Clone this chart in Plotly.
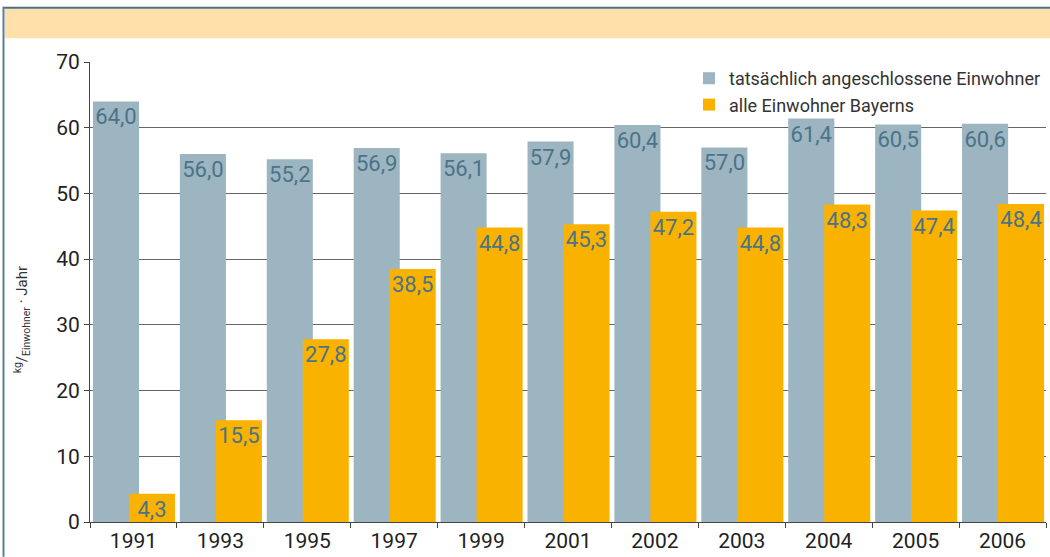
import plotly.graph_objects as go

years = ["1991", "1993", "1995", "1997", "1999", "2001", "2002", "2003", "2004", "2005", "2006"]
connected = [64.0, 56.0, 55.2, 56.9, 56.1, 57.9, 60.4, 57.0, 61.4, 60.5, 60.6]
all_bavaria = [4.3, 15.5, 27.8, 38.5, 44.8, 45.3, 47.2, 44.8, 48.3, 47.4, 48.4]
series_names = ["tatsächlich angeschlossene Einwohner", "alle Einwohner Bayerns"]
yticks = [0, 10, 20, 30, 40, 50, 60, 70]

W, H = 1050, 557
L, R, T, B = 90, 4, 62, 32
pw, ph = W - L - R, H - T - B


def px_x(q):
    return (q - L) / pw


def px_y(p):
    return (H - B - p) / ph


def fmt(v):
    return f"{v:.1f}".replace(".", ",")


FONT = "Roboto, Liberation Sans, Arial, sans-serif"
label_color = "#4a7488"

fig = go.Figure()
fig.add_trace(go.Bar(
    x=years, y=connected, name=series_names[0],
    marker=dict(color="#9db4c1", line=dict(width=0)),
    offset=-0.466, width=0.53,
    text=[fmt(v) for v in connected], textposition="inside",
    insidetextanchor="end", textangle=0, constraintext="none",
    textfont=dict(color=label_color, size=22, family=FONT),
))
fig.add_trace(go.Bar(
    x=years, y=all_bavaria, name=series_names[1],
    marker=dict(color="#f9b200", line=dict(width=0)),
    offset=-0.052, width=0.53,
    text=[fmt(v) for v in all_bavaria], textposition="inside",
    insidetextanchor="end", textangle=0, constraintext="none",
    textfont=dict(color=label_color, size=22, family=FONT),
))

shapes = [
    # header band
    dict(type="rect", xref="paper", yref="paper",
         x0=px_x(5), x1=px_x(1052), y0=px_y(38), y1=px_y(8.5),
         fillcolor="#ffdfaa", line=dict(width=0), layer="below"),
    # top border
    dict(type="line", xref="paper", yref="paper",
         x0=px_x(3), x1=px_x(1052), y0=px_y(7.5), y1=px_y(7.5),
         line=dict(color="#4a6f84", width=2)),
    # left border
    dict(type="line", xref="paper", yref="paper",
         x0=px_x(3.5), x1=px_x(3.5), y0=px_y(6.5), y1=px_y(560),
         line=dict(color="#5a7f94", width=2)),
]

fig.update_layout(
    width=W, height=H,
    margin=dict(l=L, r=R, t=T, b=B, pad=0),
    paper_bgcolor="white", plot_bgcolor="white",
    barmode="overlay",
    font=dict(family=FONT, color="#222222"),
    showlegend=True,
    legend=dict(x=1.0, xanchor="right", y=px_y(60), yanchor="top",
                bgcolor="rgba(0,0,0,0)", font=dict(size=18, color="#333333"),
                itemwidth=30, tracegroupgap=0, traceorder="normal"),
    shapes=shapes,
    annotations=[dict(
        text="<sup>kg</sup>/<sub>Einwohner</sub> · Jahr",
        xref="paper", yref="paper", x=px_x(22), y=px_y(322),
        xanchor="center", yanchor="middle", textangle=-90, showarrow=False,
        font=dict(size=15, color="#333333", family=FONT),
    )],
    xaxis=dict(
        type="category", range=[-0.5, 10.5], tickson="boundaries",
        ticks="outside", ticklen=5, tickcolor="#444", showline=True,
        linecolor="#444", linewidth=1, showgrid=False,
        tickfont=dict(size=21, color="#222222"),
    ),
    yaxis=dict(
        range=[0, 70], tickvals=yticks, ticks="outside", ticklen=5,
        tickcolor="#444", showline=True, linecolor="#444", linewidth=1,
        showgrid=True, gridcolor="#666666", gridwidth=1, zeroline=False,
        tickfont=dict(size=21, color="#222222"),
    ),
)

fig.write_html(
    "out.html",
    config={"displayModeBar": False},
    post_script="document.body.style.margin='0';document.body.style.padding='0';",
)
